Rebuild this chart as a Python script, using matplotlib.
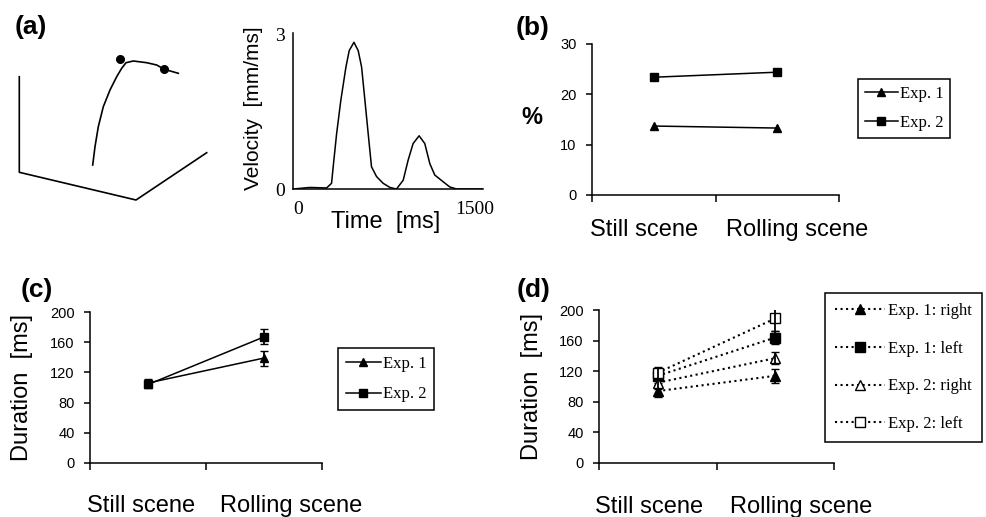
import matplotlib
matplotlib.use("Agg")
import matplotlib.pyplot as plt

# fonts: Arial-like for labels, Times-like for legends and the velocity ticks
SANS = "Liberation Sans"
SERIF = "Liberation Serif"
plt.rcParams["font.family"] = SANS
plt.rcParams["axes.linewidth"] = 1.1

W, H = 986, 517

# ---- data ----
# (a) sketch of the 3D trajectory (pixel space of the panel)
frame_x = [19.3, 19.3, 136, 206.7]
frame_y = [76.7, 172.3, 200, 152.7]
path_x = [92.7, 95, 98.3, 103.3, 110, 116.7, 121.7, 126, 133.3, 146.7, 156.7, 164.3, 178.3]
path_y = [165, 146.7, 126.7, 106.7, 90, 76.7, 68.3, 62.7, 61, 62.7, 65, 69.3, 73.3]
dots_x = [120, 164.3]
dots_y = [59, 69.3]

# (a) velocity profile
time_ms = [-40, 102, 243, 285, 299, 328, 364, 407, 435, 475, 511, 540, 568, 596, 624,
           667, 723, 780, 836, 893, 935, 977, 1028, 1076, 1119, 1161, 1232, 1288, 1345, 1565]
velocity = [0, 0.03, 0.02, 0.11, 0.43, 1.07, 1.72, 2.36, 2.68, 2.84, 2.68, 2.36, 1.72, 1.07, 0.43,
            0.24, 0.11, 0.03, 0.0, 0.17, 0.56, 0.88, 1.03, 0.88, 0.49, 0.27, 0.14, 0.04, 0.0, 0]

scenes = ["Still scene", "Rolling scene"]
scene_pos = [0.5, 1.5]

# (b) percentage
pct_exp1 = [13.7, 13.3]
pct_exp2 = [23.4, 24.4]

# (c) duration
dur_exp1 = [106, 139]
dur_exp1_err = [5, 10]
dur_exp2 = [104, 167]
dur_exp2_err = [5, 10]

# (d) duration by side
d_labels = ["Exp. 1: right", "Exp. 1: left", "Exp. 2: right", "Exp. 2: left"]
d_values = [[94, 114], [114, 164], [105, 137], [118, 189]]
d_errors = [[8, 9], [9, 9], [8, 8], [8, 17]]
d_markers = ["^", "s", "^", "s"]
d_faces = ["black", "black", "white", "white"]


def box(x0, x1, y0, y1):
    # pixel box -> figure fraction rect
    return [x0 / W, 1 - y1 / H, (x1 - x0) / W, (y1 - y0) / H]


def style_panel(ax, ymax, ystep, label_x, pad):
    ax.spines["top"].set_visible(False)
    ax.spines["right"].set_visible(False)
    ax.set_xlim(0, 2)
    ax.set_ylim(0, ymax)
    ax.set_yticks(range(0, ymax + 1, ystep))
    ax.set_xticks([0, 1, 2], ["", "", ""])
    ax.tick_params(axis="y", length=4, width=1.1, pad=7, labelsize=10.5)
    ax.tick_params(axis="x", which="major", length=5, width=1.1)
    ax.set_xticks(label_x, scenes, minor=True)
    ax.tick_params(axis="x", which="minor", length=0, labelsize=17, pad=pad)


def add_legend(ax, x, y, **kw):
    leg = ax.legend(loc="upper left", bbox_to_anchor=(x / W, 1 - y / H),
                    bbox_transform=fig.transFigure, borderaxespad=0, fancybox=False,
                    edgecolor="black", framealpha=1, prop={"family": SERIF, "size": 12}, **kw)
    leg.get_frame().set_linewidth(1.1)


fig = plt.figure(figsize=(W / 100, H / 100), dpi=100)

# ---- (a) trajectory sketch ----
ax0 = fig.add_axes([0, 0, 1, 1])
ax0.set_xlim(0, W)
ax0.set_ylim(H, 0)
ax0.axis("off")
ax0.plot(frame_x, frame_y, color="black", lw=1.2)
ax0.plot(path_x, path_y, color="black", lw=1.2)
ax0.plot(dots_x, dots_y, "o", color="black", ms=5.5)

# ---- (a) velocity ----
axv = fig.add_axes(box(293, 483, 33, 189))
axv.plot(time_ms, velocity, color="black", lw=1.1)
axv.set_xlim(-42, 1570)
axv.set_ylim(0, 3.02)
axv.spines["top"].set_visible(False)
axv.spines["right"].set_visible(False)
axv.set_xticks([0, 1500])
axv.set_yticks([0, 3])
axv.tick_params(length=0, labelsize=14)
axv.tick_params(axis="x", pad=9)
axv.tick_params(axis="y", pad=6)
for t in axv.get_xticklabels() + axv.get_yticklabels():
    t.set_family(SERIF)
axv.set_xlabel("Time  [ms]", fontsize=17)
axv.xaxis.set_label_coords(0.49, -0.14)
axv.set_ylabel("Velocity  [mm/ms]", fontsize=15)
axv.yaxis.set_label_coords(-0.16, 0.52)

# ---- (b) ----
axb = fig.add_axes(box(592, 839, 44, 195))
axb.plot(scene_pos, pct_exp1, "-^", color="black", lw=1.1, ms=6, label="Exp. 1")
axb.plot(scene_pos, pct_exp2, "-s", color="black", lw=1.1, ms=6, label="Exp. 2")
style_panel(axb, 30, 10, [0.42, 1.66], 17)
fig.text(532 / W, 1 - 118 / H, "%", fontsize=17, fontweight="bold", ha="center", va="center")
add_legend(axb, 858, 79, handlelength=2.0, handletextpad=0.1, labelspacing=0.8, borderpad=0.4)

# ---- (c) ----
axc = fig.add_axes(box(90, 322, 312, 463))
axc.plot(scene_pos, dur_exp1, "-^", color="black", lw=1.1, ms=6, label="Exp. 1")
axc.plot(scene_pos, dur_exp2, "-s", color="black", lw=1.1, ms=6, label="Exp. 2")
axc.errorbar(scene_pos, dur_exp1, yerr=dur_exp1_err, fmt="none", ecolor="black",
             capsize=3, elinewidth=1.3)
axc.errorbar(scene_pos, dur_exp2, yerr=dur_exp2_err, fmt="none", ecolor="black",
             capsize=3, elinewidth=1.3)
style_panel(axc, 200, 40, [0.44, 1.73], 23)
axc.set_ylabel("Duration  [ms]", fontsize=17)
axc.yaxis.set_label_coords(-0.245, 0.5)
add_legend(axc, 338, 348, handlelength=2.1, handletextpad=0.15, labelspacing=0.9, borderpad=0.45)

# ---- (d) ----
axd = fig.add_axes(box(599, 834, 310, 463))
for vals, errs, mk, fc, lab in zip(d_values, d_errors, d_markers, d_faces, d_labels):
    axd.plot(scene_pos, vals, marker=mk, ls=":", color="black", mfc=fc, mec="black",
             lw=1.5, ms=6.5, label=lab)
    axd.errorbar(scene_pos, vals, yerr=errs, fmt="none", ecolor="black", capsize=3, elinewidth=1.3)
style_panel(axd, 200, 40, [0.43, 1.72], 24)
axd.set_ylabel("Duration  [ms]", fontsize=17)
axd.yaxis.set_label_coords(-0.24, 0.5)
add_legend(axd, 825, 293, handlelength=3.0, handletextpad=0.2, labelspacing=1.3, borderpad=0.6)

# panel letters
for x, y, s in [(31, 27, "(a)"), (533, 28, "(b)"), (37, 290, "(c)"), (534, 290, "(d)")]:
    fig.text(x / W, 1 - y / H, s, fontsize=19, fontweight="bold", ha="center", va="center")

fig.savefig("out.png", dpi=100)
